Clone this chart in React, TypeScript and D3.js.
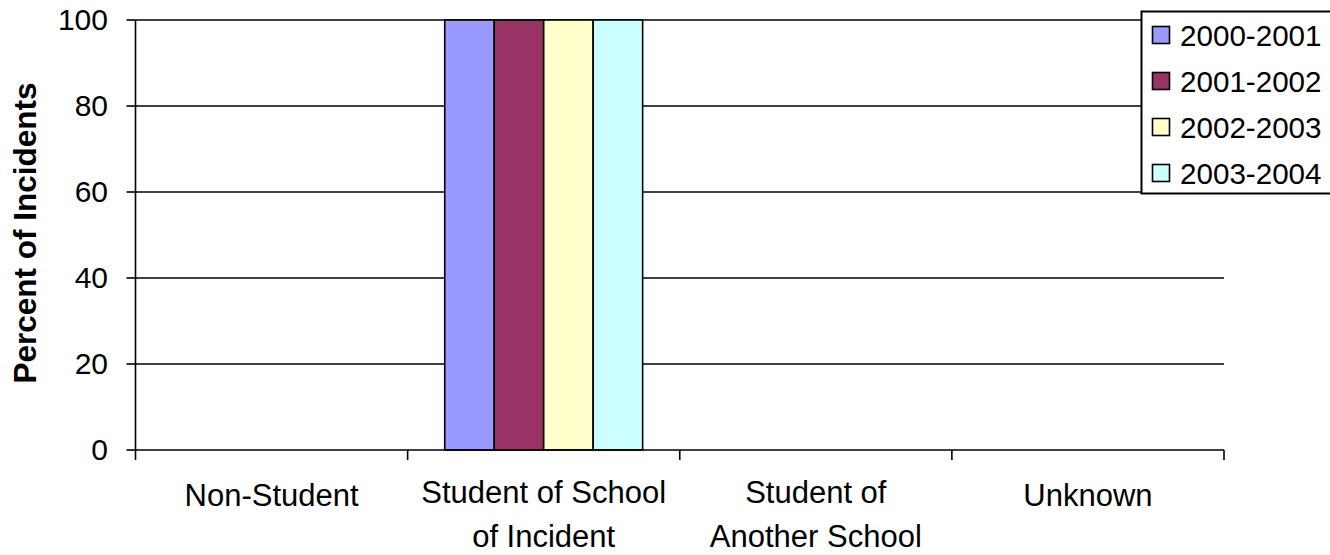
import React from "react";
import * as d3 from "d3";

const categories = [
  ["Non-Student"],
  ["Student of School", "of Incident"],
  ["Student of", "Another School"],
  ["Unknown"],
];
const categoryKeys = ["Non-Student", "Student of School of Incident", "Student of Another School", "Unknown"];
const seriesNames = ["2000-2001", "2001-2002", "2002-2003", "2003-2004"];
const seriesColors = ["#9999FF", "#993366", "#FFFFCC", "#CCFFFF"];
const values2000 = [0, 100, 0, 0];
const values2001 = [0, 100, 0, 0];
const values2002 = [0, 100, 0, 0];
const values2003 = [0, 100, 0, 0];
const seriesValues = [values2000, values2001, values2002, values2003];
const yTicks = [0, 20, 40, 60, 80, 100];
const yTitle = "Percent of Incidents";

const W = 1330;
const H = 555;
const FONT = "'Liberation Sans', Arial, sans-serif";

export default function App() {
  const left = 135.5;
  const right = 1224;
  const top = 20;
  const bottom = 450;

  const x0 = d3.scaleBand().domain(categoryKeys).range([left, right]).padding(0);
  const bw = x0.bandwidth();
  const barW = bw / 5.5;
  const gap = (bw - barW * 4) / 2;
  const x1 = d3.scaleBand().domain(seriesNames).range([gap, bw - gap]).padding(0);
  const y = d3.scaleLinear().domain([0, 100]).range([bottom, top]);

  const catTickXs = [left, ...categoryKeys.map((c) => (x0(c) as number) + bw)];

  return (
    <svg width={W} height={H} style={{ position: "absolute", left: 0, top: 0, background: "#fff" }}>
      <rect x={0} y={0} width={W} height={H} fill="#fff" />
      {/* gridlines */}
      {yTicks.filter((t) => t > 0).map((t) => (
        <line key={"g" + t} x1={left} x2={right} y1={y(t)} y2={y(t)} stroke="#000" strokeWidth={1.3} />
      ))}
      {/* bars */}
      {seriesNames.map((s, si) =>
        categoryKeys.map((c, ci) => {
          const v = seriesValues[si][ci];
          if (v === 0) return null;
          const bx = (x0(c) as number) + (x1(s) as number);
          return (
            <rect
              key={s + c}
              x={bx}
              y={y(v)}
              width={x1.bandwidth()}
              height={y(0) - y(v)}
              fill={seriesColors[si]}
              stroke="#000"
              strokeWidth={1.6}
            />
          );
        })
      )}
      {/* y axis */}
      <line x1={left} x2={left} y1={top} y2={bottom} stroke="#000" strokeWidth={1.6} />
      {yTicks.map((t) => (
        <g key={"t" + t}>
          <line x1={left - 9} x2={left} y1={y(t)} y2={y(t)} stroke="#000" strokeWidth={1.6} />
          <text x={108} y={y(t) + 9.5} textAnchor="end" fontFamily={FONT} fontSize={30} fill="#000">
            {t}
          </text>
        </g>
      ))}
      {/* x axis */}
      <line x1={left} x2={right} y1={bottom} y2={bottom} stroke="#000" strokeWidth={1.6} />
      {catTickXs.map((cx, i) => (
        <line key={"ct" + i} x1={cx} x2={cx} y1={bottom} y2={bottom + 10} stroke="#000" strokeWidth={1.6} />
      ))}
      {categories.map((lines, i) => {
        const cx = (x0(categoryKeys[i]) as number) + bw / 2;
        return (
          <text key={"cl" + i} textAnchor="middle" fontFamily={FONT} fontSize={31} fill="#000">
            {lines.map((ln, li) => (
              <tspan key={li} x={cx} y={(lines.length === 1 ? 506 : 503) + li * 44}>
                {ln}
              </tspan>
            ))}
          </text>
        );
      })}
      {/* y title */}
      <text
        transform={`translate(36,233) rotate(-90)`}
        textAnchor="middle"
        fontFamily={FONT}
        fontWeight="bold"
        fontSize={31.5}
        fill="#000"
      >
        {yTitle}
      </text>
      {/* legend */}
      <rect x={1141.5} y={11.5} width={220} height={182} fill="#fff" stroke="#000" strokeWidth={2} />
      {seriesNames.map((s, i) => {
        const cy = 35 + i * 46;
        return (
          <g key={"lg" + s}>
            <rect x={1152.5} y={cy - 8.5} width={17} height={17} fill={seriesColors[i]} stroke="#000" strokeWidth={1.6} />
            <text x={1180} y={cy + 10.5} fontFamily={FONT} fontSize={29.6} fill="#000">
              {s}
            </text>
          </g>
        );
      })}
    </svg>
  );
}
